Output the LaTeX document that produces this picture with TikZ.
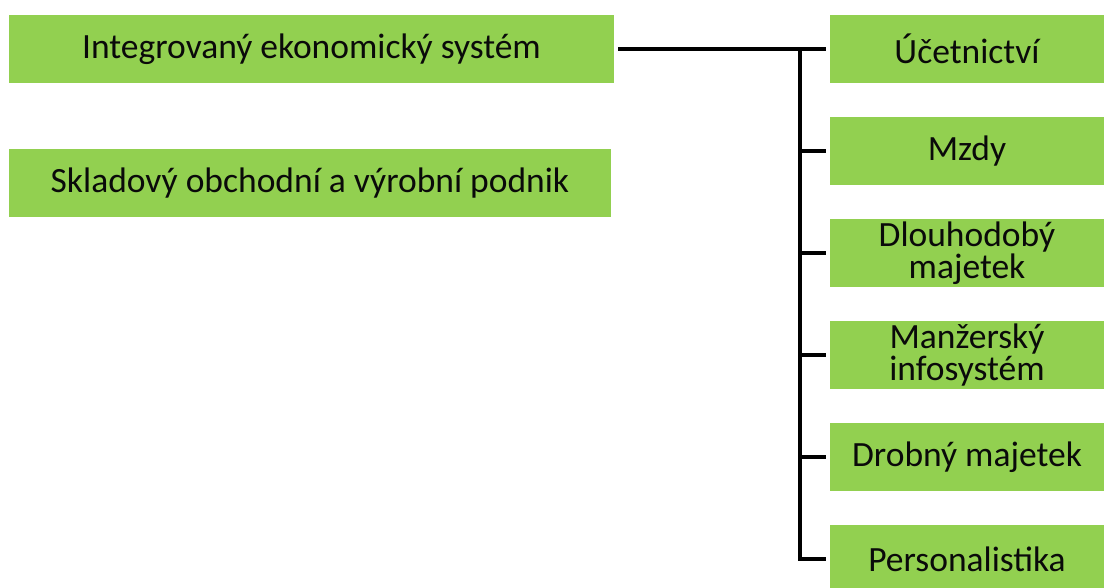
\documentclass[tikz,border=0pt]{standalone}
\usepackage{fontspec}
\setmainfont{Carlito}
\usetikzlibrary{positioning, calc}
\usepackage{xcolor}
\definecolor{cModule}{RGB}{146, 208, 80}
\definecolor{tDark}{RGB}{10, 10, 10}

\begin{document}
\begin{tikzpicture}[
    font=\fontsize{20.2}{18.4}\selectfont,
    block/.style={
        fill=cModule,
        draw=none,
        minimum height=1.36cm,
        align=center,
        inner sep=0pt,
        text=tDark
    },
    link/.style={line width=2.1pt, color=black}
]

\useasboundingbox (0,0) rectangle (22.08,-11.76);

% Left column: systems
\node[block, minimum width=12.1cm] (ies) at (6.23,-0.98) {Integrovaný ekonomický systém};
\node[block, minimum width=12.04cm] (sklad) at (6.2,-3.66) {Skladový obchodní a výrobní podnik};

% Right column: modules
\node[block, minimum width=5.48cm] (ucet) at (19.34,-0.98) {Účetnictví};
\node[block, minimum width=5.48cm] (mzdy) at (19.34,-3.02) {Mzdy};
\node[block, minimum width=5.48cm] (dlouh) at (19.34,-5.06) {Dlouhodobý\\majetek};
\node[block, minimum width=5.48cm] (manz) at (19.34,-7.10) {Manžerský\\infosystém};
\node[block, minimum width=5.48cm] (drob) at (19.34,-9.14) {Drobný majetek};
\node[block, minimum width=5.48cm] (pers) at (19.34,-11.18) {Personalistika};

% Tree connectors
\coordinate (trunk) at (16.0,0);
\draw[link, shorten <=0.08cm, shorten >=0.08cm] (ies.east) -- (ucet.west);
\draw[link, shorten >=0.08cm] (ucet.west -| trunk) |- (pers.west);
\draw[link, shorten >=0.08cm] (mzdy.west -| trunk) -- (mzdy.west);
\draw[link, shorten >=0.08cm] (dlouh.west -| trunk) -- (dlouh.west);
\draw[link, shorten >=0.08cm] (manz.west -| trunk) -- (manz.west);
\draw[link, shorten >=0.08cm] (drob.west -| trunk) -- (drob.west);

\end{tikzpicture}
\end{document}
